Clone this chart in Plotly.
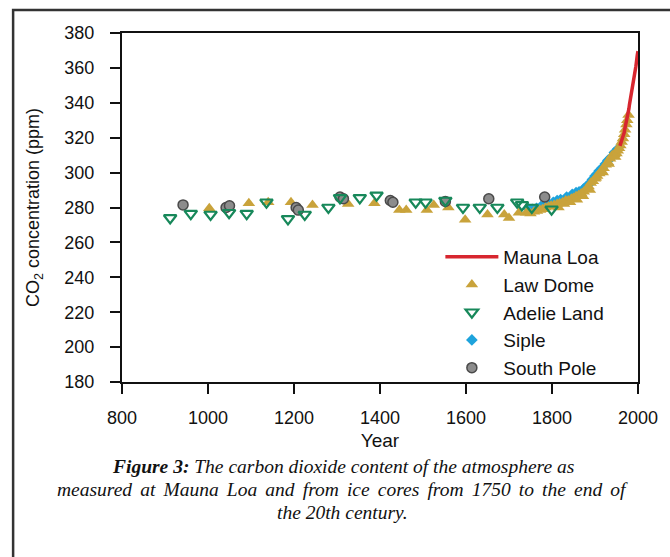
import plotly.graph_objects as go

# ---------------- data ----------------
mauna_years = [1958, 1959, 1960, 1961, 1962, 1963, 1964, 1965, 1966, 1967, 1968, 1969,
               1970, 1971, 1972, 1973, 1974, 1975, 1976, 1977, 1978, 1979, 1980, 1981,
               1982, 1983, 1984, 1985, 1986, 1987, 1988, 1989, 1990, 1991, 1992, 1993,
               1994, 1995, 1996, 1997, 1998, 1999, 2000]
mauna_co2 = [315.3, 316.0, 316.9, 317.6, 318.5, 319.0, 319.6, 320.0, 321.4, 322.2, 323.0, 324.6,
             325.7, 326.3, 327.5, 329.7, 330.2, 331.1, 332.0, 333.8, 335.4, 336.8, 338.8, 340.1,
             341.5, 343.1, 344.7, 346.1, 347.4, 349.2, 351.6, 353.1, 354.4, 355.6, 356.5, 357.1,
             358.8, 360.8, 362.6, 363.7, 366.7, 368.4, 369.6]

law_years = [1003, 1044, 1095, 1140, 1193, 1243, 1326, 1387, 1445, 1461, 1509, 1525, 1559,
             1598, 1650, 1689, 1700, 1723, 1740, 1750, 1758, 1765, 1772, 1778, 1785, 1792,
             1798, 1805, 1812, 1818, 1825, 1832, 1838, 1845, 1850, 1856, 1862, 1868, 1874,
             1880, 1885, 1890, 1895, 1900, 1905, 1910, 1915, 1920, 1925, 1930, 1935, 1940,
             1945, 1950, 1953, 1956, 1959, 1962, 1965, 1968, 1970, 1973, 1975, 1978,
             1815, 1828, 1842, 1858, 1872, 1888, 1902, 1918, 1932, 1947]
law_co2 = [279.5, 280.0, 282.5, 283.0, 283.0, 281.5, 282.0, 282.5, 278.5, 278.5, 278.5, 281.5, 280.0,
           273.0, 276.0, 276.0, 274.0, 277.0, 277.0, 276.5, 277.5, 278.0, 278.5, 279.0, 280.0, 280.5,
           281.0, 281.5, 282.0, 282.5, 283.0, 284.0, 284.0, 285.0, 285.5, 286.5, 287.0, 288.0, 289.0,
           290.5, 292.0, 294.0, 295.0, 296.5, 298.0, 299.5, 301.0, 302.5, 304.5, 306.0, 308.0, 310.0,
           310.5, 311.0, 312.5, 314.0, 315.5, 317.5, 319.5, 322.0, 324.5, 327.5, 330.0, 333.0,
           280.0, 282.0, 283.0, 284.5, 286.5, 290.0, 297.0, 300.0, 305.0, 309.0]

adelie_years = [912, 960, 1006, 1049, 1090, 1136, 1186, 1225, 1280, 1307, 1353, 1392, 1483,
                1506, 1552, 1593, 1632, 1673, 1719, 1730, 1753, 1799]
adelie_co2 = [274.0, 276.5, 276.0, 277.0, 276.5, 283.0, 273.5, 276.0, 280.0, 285.5, 285.5, 287.0,
              283.0, 283.0, 284.0, 280.0, 280.0, 280.0, 283.0, 281.5, 280.0, 279.0]

siple_years = [1744, 1754, 1764, 1774, 1782, 1792, 1803, 1812, 1820, 1834, 1847, 1856, 1863,
               1873, 1880, 1886, 1894, 1900, 1904, 1910, 1916, 1924, 1930, 1937, 1945, 1953]
siple_co2 = [279.5, 279.0, 279.5, 280.5, 281.5, 282.0, 283.0, 284.0, 284.5, 286.0, 287.5, 288.5, 289.0,
             290.5, 292.0, 293.5, 296.0, 298.0, 299.0, 301.0, 302.5, 305.0, 307.0, 308.5, 311.5, 313.5]

south_years = [942, 1042, 1050, 1205, 1210, 1307, 1315, 1424, 1430, 1552, 1653, 1783]
south_co2 = [281.5, 280.0, 281.0, 280.0, 278.5, 286.0, 285.0, 284.0, 283.0, 283.5, 285.0, 286.0]

x_ticks = [800, 1000, 1200, 1400, 1600, 1800, 2000]
y_ticks = [180, 200, 220, 240, 260, 280, 300, 320, 340, 360, 380]

SP = " \u2006"  # slightly widened word space for the justified middle caption line
caption_lines = [
    "<b><i>Figure 3:</i></b><i> The carbon dioxide content of the atmosphere as</i>",
    "<i>" + SP.join("measured at Mauna Loa and from ice cores from 1750 to the end of".split(" ")) + "</i>",
    "<i>the 20th century.</i>",
]

# ---------------- figure ----------------
RED = "#d7262f"
GOLD = "#c9a33b"
GREEN = "#17885a"
BLUE = "#1ea3dc"
GRAY = "#8c8c8c"

fig = go.Figure()

fig.add_trace(go.Scatter(x=siple_years, y=siple_co2, mode="markers", name="Siple",
                         legendrank=4, legendgroup="d",
                         marker=dict(symbol="diamond", size=9, color=BLUE, line=dict(width=0))))
fig.add_trace(go.Scatter(x=law_years, y=law_co2, mode="markers", name="Law Dome",
                         legendrank=2, legendgroup="b",
                         marker=dict(symbol="triangle-up", size=11, color=GOLD,
                                     line=dict(width=0))))
fig.add_trace(go.Scatter(x=south_years, y=south_co2, mode="markers", name="South Pole",
                         legendrank=5, legendgroup="e",
                         marker=dict(symbol="circle", size=10, color=GRAY,
                                     line=dict(width=1.5, color="#4a4a4a"))))
fig.add_trace(go.Scatter(x=adelie_years, y=adelie_co2, mode="markers", name="Adelie Land",
                         legendrank=3, legendgroup="c",
                         marker=dict(symbol="triangle-down-open", size=11, color=GREEN,
                                     line=dict(width=2.2, color=GREEN))))
fig.add_trace(go.Scatter(x=mauna_years, y=mauna_co2, mode="lines", name="Mauna Loa",
                         legendrank=1, legendgroup="a",
                         line=dict(color=RED, width=3.5)))

axis_font = dict(family="Liberation Sans, Arial, sans-serif", size=18, color="#111")

fig.update_layout(
    width=670, height=557,
    margin=dict(l=122, r=22, t=33, b=175),
    paper_bgcolor="white", plot_bgcolor="white",
    font=axis_font,
    xaxis=dict(range=[800, 2000], tickvals=x_ticks, ticks="outside", ticklen=10, tickwidth=1.5,
               tickcolor="#111", showline=True, linecolor="#111", linewidth=2, mirror=True,
               showgrid=False, zeroline=False, ticklabelstandoff=8,
               title=dict(text="Year", font=dict(size=19), standoff=7)),
    yaxis=dict(range=[180, 380], tickvals=y_ticks, ticks="outside", ticklen=10, tickwidth=1.5,
               tickcolor="#111", showline=True, linecolor="#111", linewidth=2, mirror=True,
               showgrid=False, zeroline=False, ticklabelstandoff=12,
               title=dict(text="CO<sub>2</sub> concentration (ppm)", font=dict(size=18), standoff=20)),
    legend=dict(x=0.617, y=0.4126, xanchor="left", yanchor="top", bgcolor="rgba(0,0,0,0)",
                font=dict(size=19), itemwidth=53, tracegroupgap=0),
    showlegend=True,
)

for i, line in enumerate(caption_lines):
    fig.add_annotation(text=line, xref="paper", yref="paper", x=0.428, y=-0.2407 - i * 0.0659,
                       xanchor="center", yanchor="middle", showarrow=False,
                       font=dict(family="Liberation Serif, Times New Roman, serif", size=19.5,
                                 color="#111"))

# outer frame (only top and left visible in the crop)
fig.add_shape(type="rect", xref="paper", yref="paper",
              x0=(11 - 122) / 526, x1=(700 - 122) / 526,
              y0=(382 - 620) / 349, y1=(382 - 10) / 349,
              line=dict(color="#333", width=2.5), layer="below")

fig.write_html("out.html")
